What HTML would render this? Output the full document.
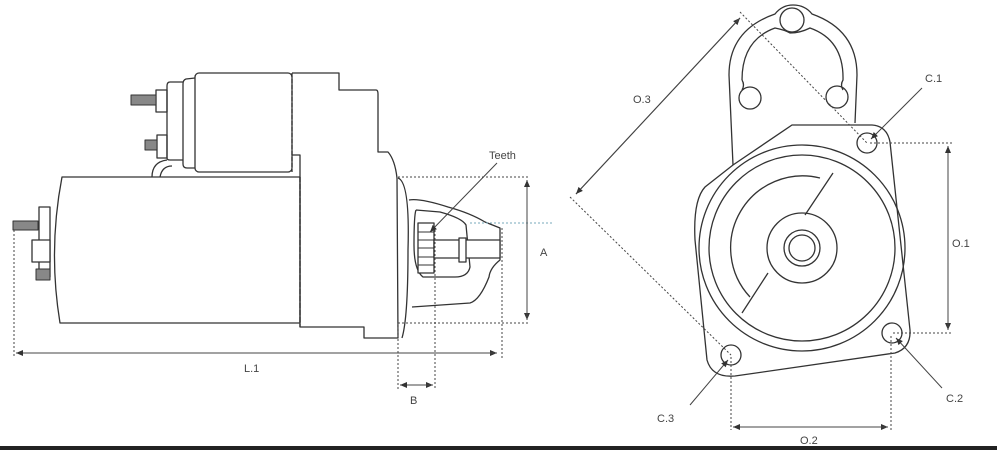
<!DOCTYPE html>
<html><head><meta charset="utf-8"><style>
html,body{margin:0;padding:0;background:#fff;}
svg{display:block;}
text{font-family:"Liberation Sans",sans-serif;font-size:11px;fill:#444;}
</style></head><body>
<svg width="997" height="450" viewBox="0 0 997 450" xmlns="http://www.w3.org/2000/svg">
<defs>
<marker id="ar" markerWidth="8" markerHeight="8" refX="7" refY="4" orient="auto" markerUnits="userSpaceOnUse">
<path d="M0,1 L7,4 L0,7 z" fill="#333"/></marker>
</defs>
<g fill="none" stroke="#333" stroke-width="1.3" stroke-linejoin="round">
<path d="M62,177 L300,177 L300,323 L60,323 Q48,250 62,177 Z"/>
<rect x="39" y="207" width="11" height="70" fill="#fff"/>
<rect x="32" y="240" width="18" height="22" fill="#fff"/>
<rect x="13" y="221" width="25" height="9" fill="#888" stroke-width="1"/>
<rect x="36" y="269" width="14" height="11" fill="#888" stroke-width="1"/>
<rect x="195" y="73" width="97" height="99" rx="4" fill="#fff"/>
<path d="M195,78 L186,79 Q183,80 183,84 L183,164 Q183,168 187,168 L195,168"/>
<path d="M183,82 L170,82 Q167,82 167,86 L167,158 Q167,160 170,160 L183,160"/>
<rect x="156" y="90" width="11" height="22"/>
<rect x="131" y="95" width="25" height="10" fill="#888" stroke-width="1"/>
<rect x="157" y="135" width="10" height="23"/>
<rect x="145" y="140" width="12" height="10" fill="#888" stroke-width="1"/>
<path d="M152,177 Q152,162 167,160"/>
<path d="M160,177 Q162,166 172,166"/>
<path d="M292,73 L339,73 L339,90 L376,90 Q378,90 378,94 L378,152 L388,152 Q395,160 397,178 L398,338 L364,338 L364,327 L300,327 L300,177"/>
<path d="M292,155 L300,155 L300,177"/>
<path d="M292,73 L292,172" stroke-dasharray="4,2"/>
<path d="M300,177 L300,327" stroke-dasharray="5,2"/>
<path d="M398,178 Q410,182 408,250 Q408,318 402,338"/>
<path d="M409,200 Q420,198 448,207 Q470,213 485,222 L500,228 L500,260 Q490,268 489,277 Q480,300 470,303 L412,307"/>
<path d="M416,210 L440,212 Q462,218 466,225 L470,267 Q468,277 455,277 L423,277 Q414,270 414,245 Q414,215 416,210"/>
<rect x="418" y="223" width="16" height="50" fill="#fff"/>
<path d="M418,232 L434,232 M418,240 L434,240 M418,248 L434,248 M418,257 L434,257 M418,265 L434,265" stroke-width="1"/>
<rect x="434" y="240" width="66" height="18" fill="#fff"/>
<rect x="459" y="238" width="7" height="24" fill="#fff"/>
</g>
<g fill="none" stroke="#444" stroke-width="1">
<path d="M398,177 L530,177 M398,323 L530,323 M14,230 L14,358 M502,228 L502,358 M398,323 L398,390 M435,230 L435,390" stroke-dasharray="2,2"/>
<path d="M470,223 L552,223" stroke="#7ab" stroke-dasharray="2,2"/>
<line x1="527" y1="180" x2="527" y2="320" marker-end="url(#ar)"/>
<line x1="527" y1="320" x2="527" y2="180" marker-end="url(#ar)"/>
<line x1="16" y1="353" x2="497" y2="353" marker-end="url(#ar)"/>
<line x1="497" y1="353" x2="16" y2="353" marker-end="url(#ar)"/>
<line x1="400" y1="385" x2="433" y2="385" marker-end="url(#ar)"/>
<line x1="433" y1="385" x2="400" y2="385" marker-end="url(#ar)"/>
<line x1="497" y1="163" x2="430" y2="232" marker-end="url(#ar)"/>
</g>
<text x="489" y="159">Teeth</text>
<text x="540" y="256">A</text>
<text x="244" y="372">L.1</text>
<text x="410" y="404">B</text>

<g fill="none" stroke="#333" stroke-width="1.3">
<path d="M733,165 L729,75 Q729,30 775,14 Q782,5 793,5 Q805,5 812,14 Q857,30 857,75 L855,123"/>
<path d="M742,80 Q742,40 775,28 Q785,30 790,33 Q800,33 810,28 Q844,40 843,80 Q840,85 843,90"/>
<path d="M742,80 Q745,85 742,90"/>
<circle cx="792" cy="20" r="12"/>
<circle cx="750" cy="98" r="11"/>
<circle cx="837" cy="97" r="11"/>
<path d="M792,125 L872,125 Q887,126 890,142 L910,330 Q911,348 895,353 L735,376 Q712,378 707,360 L695,240 Q693,200 705,187 L733,165 Z"/>
<circle cx="802" cy="248" r="103"/>
<circle cx="802" cy="248" r="93"/>
<path d="M820,178 A72,72 0 0,0 750,297"/>
<path d="M833,173 L805,215 M768,273 L742,313"/>
<circle cx="802" cy="248" r="35"/>
<circle cx="802" cy="248" r="18"/>
<circle cx="802" cy="248" r="13"/>
<circle cx="867" cy="143" r="10"/>
<circle cx="892" cy="333" r="10"/>
<circle cx="731" cy="355" r="10"/>
</g>
<g fill="none" stroke="#444" stroke-width="1">
<path d="M870,143 L952,143 M893,333 L952,333 M731,357 L731,430 M891,336 L891,430 M740,12 L867,143 M570,197 L731,355" stroke-dasharray="2,2"/>
<line x1="948" y1="146" x2="948" y2="330" marker-end="url(#ar)"/>
<line x1="948" y1="330" x2="948" y2="146" marker-end="url(#ar)"/>
<line x1="733" y1="427" x2="888" y2="427" marker-end="url(#ar)"/>
<line x1="888" y1="427" x2="733" y2="427" marker-end="url(#ar)"/>
<line x1="576" y1="194" x2="740" y2="18" marker-end="url(#ar)"/>
<line x1="740" y1="18" x2="576" y2="194" marker-end="url(#ar)"/>
<line x1="922" y1="88" x2="871" y2="139" marker-end="url(#ar)"/>
<line x1="942" y1="388" x2="896" y2="338" marker-end="url(#ar)"/>
<line x1="690" y1="405" x2="728" y2="360" marker-end="url(#ar)"/>
</g>
<text x="925" y="82">C.1</text>
<text x="952" y="247">O.1</text>
<text x="946" y="402">C.2</text>
<text x="657" y="422">C.3</text>
<text x="800" y="444">O.2</text>
<text x="633" y="103">O.3</text>
<rect x="0" y="446" width="997" height="4" fill="#222"/>
</svg>
</body></html>
